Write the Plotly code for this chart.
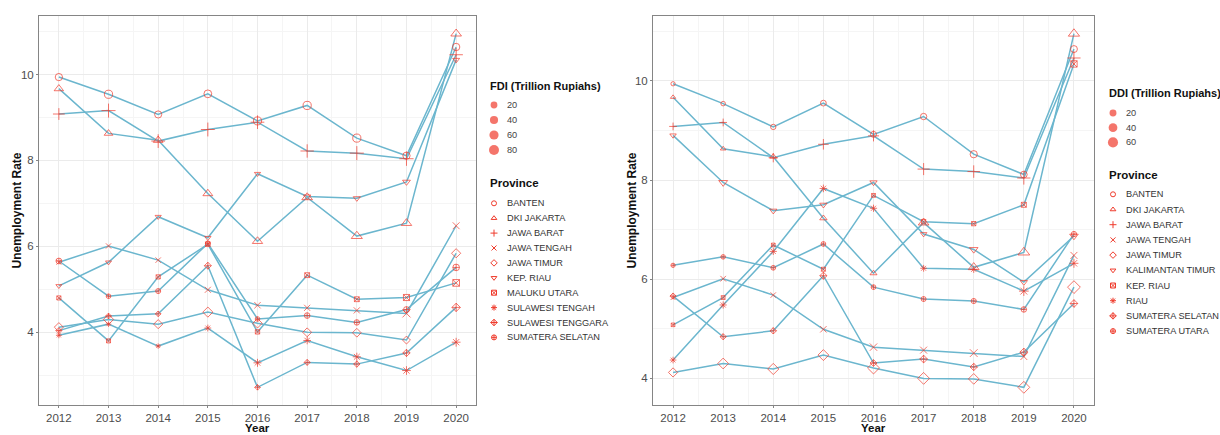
import math
import plotly.graph_objects as go

W, H = 1220, 435

years = [2012, 2013, 2014, 2015, 2016, 2017, 2018, 2019, 2020]

# Unemployment rate (%) by province
ur_banten = [9.94, 9.54, 9.07, 9.55, 8.92, 9.28, 8.52, 8.11, 10.64]
ur_dki = [9.67, 8.63, 8.47, 7.23, 6.12, 7.14, 6.24, 6.54, 10.95]
ur_jabar = [9.08, 9.16, 8.45, 8.72, 8.89, 8.22, 8.17, 8.04, 10.46]
ur_jateng = [5.63, 6.01, 5.68, 4.99, 4.63, 4.57, 4.51, 4.44, 6.48]
ur_jatim = [4.12, 4.30, 4.19, 4.47, 4.21, 4.00, 3.99, 3.82, 5.84]
ur_kepri = [5.08, 5.63, 6.69, 6.20, 7.69, 7.16, 7.12, 7.50, 10.34]
ur_malut = [4.80, 3.80, 5.29, 6.05, 4.01, 5.33, 4.77, 4.81, 5.15]
ur_sulteng = [3.93, 4.19, 3.68, 4.10, 3.29, 3.81, 3.43, 3.11, 3.77]
ur_sultra = [4.04, 4.38, 4.43, 5.55, 2.72, 3.30, 3.26, 3.52, 4.58]
ur_sumsel = [5.66, 4.84, 4.96, 6.07, 4.31, 4.39, 4.23, 4.53, 5.51]
ur_kaltim = [8.90, 7.95, 7.38, 7.50, 7.95, 6.91, 6.60, 5.94, 6.87]
ur_riau = [4.37, 5.48, 6.56, 7.83, 7.43, 6.22, 6.20, 5.76, 6.32]
ur_sumut = [6.28, 6.45, 6.23, 6.71, 5.84, 5.60, 5.56, 5.39, 6.91]

# FDI (trillion rupiahs)
fdi_banten = [26, 40, 24, 34, 39, 41, 40, 26, 28]
fdi_dki = [40, 30, 45, 48, 55, 62, 70, 58, 62]
fdi_jabar = [45, 80, 75, 77, 73, 69, 80, 83, 70]
fdi_jateng = [3, 5, 6, 11, 14, 12, 13, 38, 20]
fdi_jatim = [22, 35, 22, 34, 26, 20, 19, 12, 23]
fdi_kepri = [5, 5, 6, 7, 6, 14, 13, 20, 11]
fdi_malut = [0.5, 0.3, 0.6, 2, 1, 3, 3, 12, 18]
fdi_sulteng = [3, 2, 1.5, 8, 18, 15, 20, 26, 27]
fdi_sultra = [2, 1.5, 1, 6, 1, 2, 3, 8, 16]
fdi_sumsel = [9, 2, 4, 3, 2, 8, 7, 10, 18]

# DDI (trillion rupiahs)
ddi_banten = [3, 4, 8, 10.7, 12.4, 15.1, 22.9, 18, 20]
ddi_dki = [4.5, 5.9, 12.5, 15.5, 13, 47, 49, 62, 55]
ddi_jabar = [9, 9, 17.6, 26.3, 30.4, 38.4, 42.3, 49.3, 50]
ddi_jateng = [5.8, 9.7, 8.1, 15.4, 24.1, 19.8, 27.5, 18.7, 20.1]
ddi_jatim = [21.5, 34.8, 38.1, 35.5, 46.3, 45, 33.3, 45.5, 55.7]
ddi_kaltim = [10, 28, 15, 15, 15, 10, 25, 15, 25]
ddi_kepri = [1, 1.5, 1.2, 2, 1.5, 3, 3, 6, 15]
ddi_riau = [9, 12, 12, 15, 12, 10, 12, 32, 25]
ddi_sumsel = [5, 5, 6, 9, 7, 12, 10, 13, 12]
ddi_sumut = [3, 4, 5, 5, 5, 6, 7, 9, 8]

fdi_provinces = ["BANTEN", "DKI JAKARTA", "JAWA BARAT", "JAWA TENGAH", "JAWA TIMUR",
                 "KEP. RIAU", "MALUKU UTARA", "SULAWESI TENGAH", "SULAWESI TENGGARA",
                 "SUMATERA SELATAN"]
fdi_rates = [ur_banten, ur_dki, ur_jabar, ur_jateng, ur_jatim, ur_kepri, ur_malut,
             ur_sulteng, ur_sultra, ur_sumsel]
fdi_values = [fdi_banten, fdi_dki, fdi_jabar, fdi_jateng, fdi_jatim, fdi_kepri, fdi_malut,
              fdi_sulteng, fdi_sultra, fdi_sumsel]

ddi_provinces = ["BANTEN", "DKI JAKARTA", "JAWA BARAT", "JAWA TENGAH", "JAWA TIMUR",
                 "KALIMANTAN TIMUR", "KEP. RIAU", "RIAU", "SUMATERA SELATAN",
                 "SUMATERA UTARA"]
ddi_rates = [ur_banten, ur_dki, ur_jabar, ur_jateng, ur_jatim, ur_kaltim, ur_kepri,
             ur_riau, ur_sumsel, ur_sumut]
ddi_values = [ddi_banten, ddi_dki, ddi_jabar, ddi_jateng, ddi_jatim, ddi_kaltim, ddi_kepri,
              ddi_riau, ddi_sumsel, ddi_sumut]

fdi_breaks = [20, 40, 60, 80]
ddi_breaks = [20, 40, 60]

symbols = ["circle-open", "triangle-up-open", "cross-thin-open", "x-thin-open", "diamond-open",
           "triangle-down-open", "square-x-open", "asterisk-open", "diamond-cross-open",
           "circle-cross-open"]

RED = "#EF3B2C"
LINE = "#6BB6CE"
FONT = "Liberation Sans, Arial, sans-serif"


def fdi_size(v):
    return 3.6 + 0.72 * math.sqrt(v)


def ddi_size(v):
    return 2.6 + 0.97 * math.sqrt(v)


def px(x):
    return x / W


def py(y):
    return 1 - y / H


fig = go.Figure()

panels = [
    ("x", "y", fdi_provinces, fdi_rates, fdi_values, fdi_size),
    ("x2", "y2", ddi_provinces, ddi_rates, ddi_values, ddi_size),
]

for xa, ya, provs, rates, vals, sf in panels:
    for p, r in zip(provs, rates):
        fig.add_trace(go.Scatter(x=years, y=r, mode="lines", xaxis=xa, yaxis=ya,
                                 line=dict(color=LINE, width=1.5), showlegend=False,
                                 hoverinfo="skip"))
    for i, (p, r, v) in enumerate(zip(provs, rates, vals)):
        fig.add_trace(go.Scatter(x=years, y=r, mode="markers", xaxis=xa, yaxis=ya, name=p,
                                 marker=dict(symbol=symbols[i], size=[sf(a) for a in v],
                                             color=RED, line=dict(color=RED, width=1)),
                                 showlegend=False))


def yrange(rate_lists):
    lo = min(min(r) for r in rate_lists)
    hi = max(max(r) for r in rate_lists)
    pad = (hi - lo) * 0.05
    return [lo - pad, hi + pad]


xpad = (years[-1] - years[0]) * 0.05
xr = [years[0] - xpad, years[-1] + xpad]

panel_px = [(39, 476), (653, 1094)]
top_px, bot_px = 16, 405

axis_common = dict(
    showgrid=True, gridcolor="#EBEBEB", gridwidth=1,
    zeroline=False, showline=True, mirror=True, linecolor="#858585", linewidth=1,
    ticks="outside", ticklen=2, tickcolor="#858585",
    tickfont=dict(family=FONT, size=11.5, color="#4D4D4D"),
)

layout = dict(
    width=W, height=H, margin=dict(l=0, r=0, t=0, b=0),
    paper_bgcolor="white", plot_bgcolor="white", showlegend=False,
)

for k, (xa, rates) in enumerate([("xaxis", fdi_rates), ("xaxis2", ddi_rates)]):
    x0, x1 = panel_px[k]
    ya = "yaxis" if k == 0 else "yaxis2"
    layout[xa] = dict(axis_common, domain=[px(x0), px(x1)], range=xr, tickmode="array",
                      tickvals=years, ticktext=[str(y) for y in years],
                      anchor="y" if k == 0 else "y2",
                      minor=dict(tickvals=[y + 0.5 for y in years[:-1]], showgrid=True,
                                 gridcolor="#F5F5F5", gridwidth=0.6, ticks=""))
    layout[ya] = dict(axis_common, domain=[py(bot_px), py(top_px)], range=yrange(rates),
                      tick0=0, dtick=2, anchor="x" if k == 0 else "x2",
                      minor=dict(tick0=1, dtick=2, showgrid=True, gridcolor="#F5F5F5",
                                 gridwidth=0.6, ticks=""))

# legend overlay axes (pixel coordinates)
leg_spans = [(478, 652), (1096, 1220)]
for k, (a, b) in enumerate(leg_spans):
    n = 3 + k
    layout["xaxis%d" % n] = dict(domain=[px(a), px(b)], range=[a, b], visible=False,
                                 fixedrange=True, anchor="y%d" % n)
    layout["yaxis%d" % n] = dict(domain=[0, 1], range=[H, 0], visible=False,
                                 fixedrange=True, anchor="x%d" % n)

fig.update_layout(**layout)

annotations = []
# axis titles
for k in range(2):
    x0, x1 = panel_px[k]
    annotations.append(dict(text="<b>Year</b>", x=px((x0 + x1) / 2), y=0, xref="paper",
                            yref="paper", showarrow=False, xanchor="center", yanchor="bottom",
                            borderpad=0, font=dict(family=FONT, size=11.5, color="#111111")))
for xc in (16, 631):
    annotations.append(dict(text="<b>Unemployment Rate</b>", x=px(xc), y=py((top_px + bot_px) / 2),
                            xref="paper", yref="paper", showarrow=False, textangle=-90,
                            xanchor="center", yanchor="middle",
                            font=dict(family=FONT, size=12, color="#111111")))

legends = [
    dict(title="FDI (Trillion Rupiahs)", breaks=fdi_breaks, sf=fdi_size, provs=fdi_provinces,
         tx=488, sx=494, lx=505, t1=86, b0=105, bstep=15, t2=183, p0=203.3, pstep=14.9),
    dict(title="DDI (Trillion Rupiahs)", breaks=ddi_breaks, sf=ddi_size, provs=ddi_provinces,
         tx=1106.5, sx=1113, lx=1124, t1=93, b0=113, bstep=14.7, t2=175, p0=194.3, pstep=15.2),
]

for k, L in enumerate(legends):
    xr_, yr_ = "x%d" % (3 + k), "y%d" % (3 + k)
    annotations.append(dict(text="<b>%s</b>" % L["title"], x=L["tx"], y=L["t1"], xref=xr_,
                            yref=yr_, showarrow=False, xanchor="left", yanchor="middle",
                            font=dict(family=FONT, size=11, color="#111111")))
    annotations.append(dict(text="<b>Province</b>", x=L["tx"], y=L["t2"], xref=xr_, yref=yr_,
                            showarrow=False, xanchor="left", yanchor="middle",
                            font=dict(family=FONT, size=11.5, color="#111111")))
    bys = [L["b0"] + i * L["bstep"] for i in range(len(L["breaks"]))]
    fig.add_trace(go.Scatter(x=[L["sx"]] * len(bys), y=bys, mode="markers", xaxis=xr_, yaxis=yr_,
                             marker=dict(symbol="circle", color=RED,
                                         size=[L["sf"](b) for b in L["breaks"]], line=dict(width=0)),
                             showlegend=False, hoverinfo="skip"))
    for b, yy in zip(L["breaks"], bys):
        annotations.append(dict(text=str(b), x=L["lx"], y=yy, xref=xr_, yref=yr_,
                                showarrow=False, xanchor="left", yanchor="middle",
                                font=dict(family=FONT, size=9.2, color="#444444")))
    pys = [L["p0"] + i * L["pstep"] for i in range(len(L["provs"]))]
    for i, (p, yy) in enumerate(zip(L["provs"], pys)):
        fig.add_trace(go.Scatter(x=[L["sx"]], y=[yy], mode="markers", xaxis=xr_, yaxis=yr_,
                                 marker=dict(symbol=symbols[i], size=5, color=RED,
                                             line=dict(color=RED, width=1)),
                                 showlegend=False, hoverinfo="skip"))
        annotations.append(dict(text=p, x=L["lx"], y=yy, xref=xr_, yref=yr_, showarrow=False,
                                xanchor="left", yanchor="middle",
                                font=dict(family=FONT, size=9.2, color="#333333")))

fig.update_layout(annotations=annotations)

fig.write_html("out.html", config={"displayModeBar": False},
               post_script="document.body.style.margin='0px';")
